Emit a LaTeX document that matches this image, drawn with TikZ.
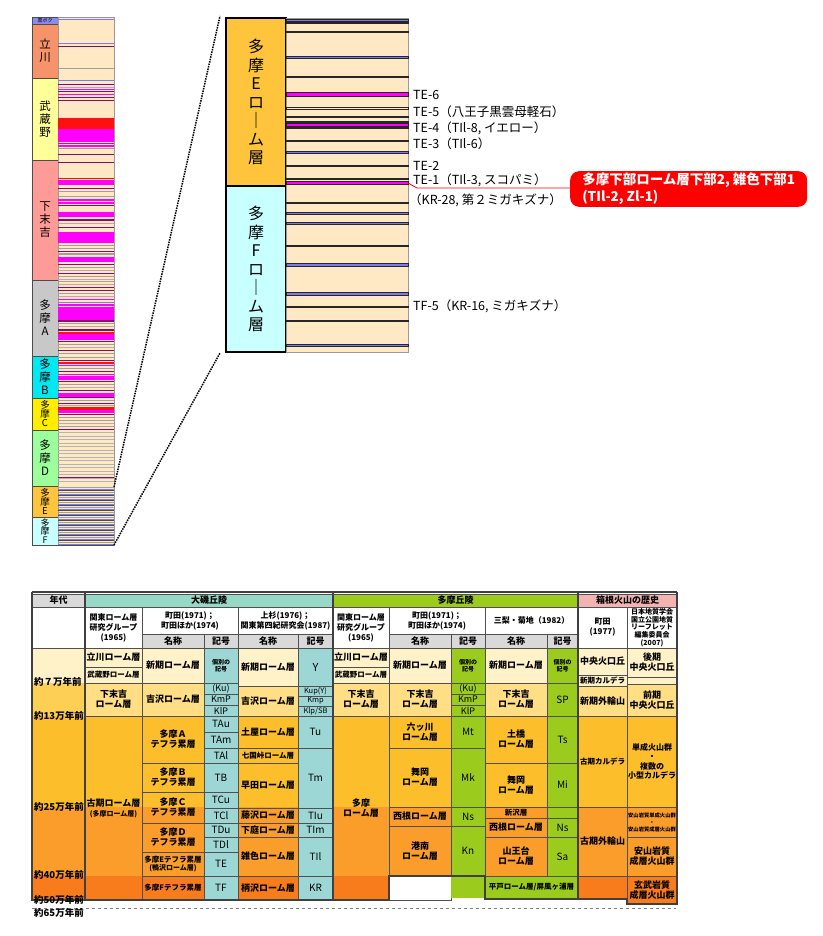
\documentclass[tikz,border=0pt]{standalone}
\usepackage{fontspec}
\setmainfont{Noto Sans CJK JP}

\definecolor{stripbg}{HTML}{FFE9C4}
\definecolor{lav}{HTML}{7B7BEF}
\definecolor{purp}{HTML}{8B0A6E}
\definecolor{mag}{HTML}{FF00FF}
\definecolor{redc}{HTML}{FF1010}
\definecolor{gry}{HTML}{A0A0A0}
\definecolor{pk}{HTML}{C8A0B4}
\definecolor{kuroc}{HTML}{8A8AF0}
\definecolor{tachic}{HTML}{F7936A}
\definecolor{musac}{HTML}{FFFF99}
\definecolor{shimoc}{HTML}{FF9B97}
\definecolor{tamaa}{HTML}{C8C8C8}
\definecolor{tamab}{HTML}{00E8F0}
\definecolor{tamac}{HTML}{FFEE00}
\definecolor{tamad}{HTML}{9CFF9C}
\definecolor{tamae}{HTML}{FDC43C}
\definecolor{tamaf}{HTML}{C8FFFF}
\definecolor{pale}{HTML}{FFF2C9}
\definecolor{lgold}{HTML}{FFDE85}
\definecolor{agegold}{HTML}{FECF55}
\definecolor{gold}{HTML}{FDBE2C}
\definecolor{orng}{HTML}{FB9D2B}
\definecolor{dorng}{HTML}{F87B1C}
\definecolor{teal}{HTML}{9CD7D5}
\definecolor{tealhd}{HTML}{96D9C6}
\definecolor{grn}{HTML}{9BCB1C}
\definecolor{pinkhd}{HTML}{F4B3B3}
\definecolor{hdgray}{HTML}{D9D9D9}
\definecolor{gridc}{HTML}{505050}
\definecolor{framec}{HTML}{404040}

% box from (x1,y1) to (x2,y2), y counted downwards
\newcommand\tcell[8][]{%
  \node[cell,#1,fill=#7,minimum width={(#5-#3)*1pt},minimum height={(#6-#4)*1pt}] (#2) at (#3,#4) {#8};}

\begin{document}
\begin{tikzpicture}[x=1pt,y=-1pt,
    cell/.style = {draw=gridc, line width=0.5pt, anchor=north west,
                inner sep=0pt, outer sep=0pt, align=center,
                font=\bfseries\fontsize{9}{10}\selectfont},
    hd/.style = {font=\bfseries\fontsize{9}{10}\selectfont},
    md/.style = {font=\bfseries\fontsize{8}{10}\selectfont},
    sm/.style = {font=\bfseries\fontsize{7.5}{8.5}\selectfont},
    xs/.style = {font=\bfseries\fontsize{7}{7.8}\selectfont},
    xxs/.style = {font=\bfseries\fontsize{6}{7}\selectfont},
    sym/.style = {font=\fontsize{10}{11}\selectfont},
    symrow/.style = {font=\fontsize{9}{10}\selectfont},
    symsm/.style = {font=\fontsize{7.5}{8}\selectfont},
    ov/.style = {draw=black!70, line width=0.6pt, font=\fontsize{11.5}{13}\selectfont},
    ovsq/.style = {font=\fontsize{9.5}{9}\selectfont},
    zm/.style = {draw=black, line width=1.8pt, font=\fontsize{16}{18.5}\selectfont},
    strip/.style = {draw=black!40, line width=0.6pt},
    zlayer/.style = {draw=black!85, line width=0.3pt},
    telbl/.style = {anchor=west, inner sep=0pt, font=\fontsize{12.5}{13}\selectfont},
    agelbl/.style = {anchor=west, inner sep=0pt, font=\bfseries\fontsize{9.5}{10}\selectfont},
    callout/.style = {anchor=west, fill=red, text=white, rounded corners=9pt,
                align=left, inner xsep=7pt, inner ysep=2pt, minimum width=237pt,
                font=\bfseries\fontsize{13.5}{17}\selectfont},
    zoomline/.style = {densely dotted, line width=1.5pt},
    tframe/.style = {draw=framec, line width=2.2pt}
                    ]
    \useasboundingbox (0,0) rectangle (822,936);

    % overview column
    \tcell[ov,font=\fontsize{5}{5}\selectfont]{kuro}{32}{17}{58}{24}{kuroc}{黒ボク}
    \tcell[ov]{ta}{32}{24}{58}{78}{tachic}{立\\川}
    \tcell[ov]{mu}{32}{78}{58}{160}{musac}{武\\蔵\\野}
    \tcell[ov]{sh}{32}{160}{58}{280}{shimoc}{下\\末\\吉}
    \tcell[ov]{tA}{32}{280}{58}{356}{tamaa}{多\\摩\\A}
    \tcell[ov]{tB}{32}{356}{58}{398}{tamab}{多\\摩\\B}
    \tcell[ov,ovsq]{tC}{32}{398}{58}{430}{tamac}{多\\摩\\C}
    \tcell[ov]{tD}{32}{430}{58}{486}{tamad}{多\\摩\\D}
    \tcell[ov,ovsq]{tE}{32}{486}{58}{517}{tamae}{多\\摩\\E}
    \tcell[ov,ovsq,font=\fontsize{9}{8.6}\selectfont]{tF}{32}{517}{58}{545}{tamaf}{多\\摩\\F}
    \tcell[strip]{ovs}{58}{17}{114}{545}{stripbg}{}
    \foreach \y/\h/\c in {19/1.5/lav, 43/1/lav, 46/1/purp, 68/1/gry, 80/1/lav,
        84/1/purp, 87/1/pk, 89/1/mag, 91/1/purp, 94/1/mag, 97/1/purp, 100/1/purp,
        118/11/redc, 129/13/mag, 143/1.5/redc, 145/2/mag, 148/1/gry, 154/1/purp,
        162/1/purp, 178/1.5/redc, 180/5/mag, 188/1/purp, 191/1/gry, 196/1/gry,
        199/1.5/mag, 202/1.5/mag, 205/1/purp, 212/5/mag, 219/1.5/purp, 223/1/pk,
        227/1/purp, 232/11/mag, 245/1/gry, 247.5/1.5/gry, 250.5/1/purp, 253/1.5/gry,
        257/5/mag, 264/1/purp, 267/1/gry, 270/1/pk, 273/1/purp, 276/1/gry, 279/1/pk,
        281/1/gry, 284/1/pk, 287/1/purp, 290/1/purp, 293/1/gry, 296/1/pk, 299/1/mag,
        302/1/lav, 304/1.5/mag, 307/13/mag, 320/1.5/purp, 323/1/gry, 326/1/pk,
        329/1.5/purp, 332/1.5/redc, 334/6/mag, 341/1/purp, 344/1/gry, 347/1/pk,
        350/1/purp, 353/1/gry, 357/1/gry, 360/1/purp, 362/1.5/redc, 365/1/mag,
        368/1/gry, 371/1/purp, 374/1/mag, 376/4/mag, 381/1/purp, 384/1/gry, 387/1/pk,
        390/1/purp, 393/4/mag, 397/1/purp, 400/1/gry, 403/1/purp, 405/1/pk,
        407/3/redc, 410/3/mag, 414/1/purp, 417/1/gry, 420/1/gry, 423/1/pk,
        426/1/gry, 429/1/purp, 477/1/purp}
        \fill[\c] (58,\y) rectangle (114,\y+\h);
    \foreach \y in {432,435.5,...,484}
        \fill[gry!80] (58,\y) rectangle (114,\y+1);
    \foreach \y in {487,492,...,542} {
        \fill[gry] (58,\y) rectangle (114,\y+1);
        \fill[lav] (58,\y+1.8) rectangle (114,\y+2.6);
        \fill[black!70] (58,\y+3.4) rectangle (114,\y+4.1);
    }

    % enlarged part
    \tcell[zm]{ze}{226}{18}{286}{186}{tamae}{多\\摩\\E\\ロ\\｜\\ム\\層}
    \tcell[zm]{zf}{226}{186}{286}{352}{tamaf}{多\\摩\\F\\ロ\\｜\\ム\\層}
    \tcell[strip]{zs}{286}{18}{408}{352}{stripbg}{}
    \foreach \y/\h/\c in {19/2/lav, 22/1/gry, 31/1.5/purp, 56/2.5/lav, 76/1.5/purp,
        92/4/mag, 107/2/stripbg, 116/1.5/gry, 121/1/purp, 123/3.5/mag, 127.5/1/purp,
        140/1.5/mag, 151/2/lav, 165/1.5/purp, 178/1.5/lav, 181/3/mag, 202/1.5/gry,
        212/2/lav, 222/2.5/lav, 245/1.5/lav, 263/3/lav, 292/3/lav, 306/1.5/gry,
        320/1.5/lav, 344/2.5/lav}
        \filldraw[zlayer,fill=\c] (286,\y) rectangle (408,\y+\h);

    \coordinate (ovE) at (114,487);
    \coordinate (ovF) at (114,545);
    \coordinate (zmT) at (220,16);
    \coordinate (zmB) at (220,353);
    \draw[zoomline] (ovE) -- (zmT);
    \draw[zoomline] (ovF) -- (zmB);

    \node[telbl] (te6) at (413,95) {TE-6};
    \node[telbl] (te5) at (413,112) {TE-5（八王子黒雲母軽石）};
    \node[telbl] (te4) at (413,128) {TE-4（TIl-8, イエロー）};
    \node[telbl] (te3) at (413,144) {TE-3（TIl-6）};
    \node[telbl] (te2) at (413,166) {TE-2};
    \node[telbl] (te1) at (413,180) {TE-1（TIl-3, スコパミ）};
    \node[telbl] (kr28) at (409,200) {（KR-28, 第２ミガキズナ）};
    \node[telbl] (tf5) at (413,306) {TF-5（KR-16, ミガキズナ）};

    \node[callout] (callout) at (570,189) {多摩下部ローム層下部2, 雑色下部1\\(TIl-2, Zl-1)};
    \coordinate (te1pt) at (408,183);
    \coordinate (te1bend) at (417,188);
    \draw[red, line width=0.8pt] (te1pt) -- (te1bend) -- (te1bend -| callout.west);

    % table: colour bands by age
    \fill[pale] (32,648) rectangle (85,683);
    \fill[agegold] (32,683) rectangle (85,716);
    \fill[gold] (32,716) rectangle (677,807);
    \fill[orng] (32,807) rectangle (677,876);
    \fill[dorng] (32,876) rectangle (389,900);
    \fill[dorng] (389,876) rectangle (627,898);

    % header
    \tcell[hd]{hAge}{32}{594}{85}{607}{hdgray}{年代}
    \tcell{hAgeW}{32}{607}{85}{648}{white}{}
    \tcell[hd]{hOiso}{85}{594}{333}{607}{tealhd}{大磯丘陵}
    \tcell[md]{hOk}{85}{607}{142}{648}{white}{関東ローム層\\研究グループ\\(1965)}
    \tcell[md]{hOm}{142}{607}{238}{634}{white}{町田(1971)；\\町田ほか(1974)}
    \tcell[hd]{hOmn}{142}{634}{204}{648}{hdgray}{名称}
    \tcell[hd]{hOms}{204}{634}{238}{648}{hdgray}{記号}
    \tcell[md]{hOu}{238}{607}{333}{634}{white}{上杉(1976)；\\関東第四紀研究会(1987)}
    \tcell[hd]{hOun}{238}{634}{298}{648}{hdgray}{名称}
    \tcell[hd]{hOus}{298}{634}{333}{648}{hdgray}{記号}
    \tcell[hd]{hTama}{333}{594}{578}{607}{grn}{多摩丘陵}
    \tcell[md]{hTk}{333}{607}{389}{648}{white}{関東ローム層\\研究グループ\\(1965)}
    \tcell[md]{hTm}{389}{607}{485}{634}{white}{町田(1971)；\\町田ほか(1974)}
    \tcell[hd]{hTmn}{389}{634}{451}{648}{hdgray}{名称}
    \tcell[hd]{hTms}{451}{634}{485}{648}{hdgray}{記号}
    \tcell[md]{hTs}{485}{607}{578}{634}{white}{三梨・菊地（1982）}
    \tcell[hd]{hTsn}{485}{634}{547}{648}{hdgray}{名称}
    \tcell[hd]{hTss}{547}{634}{578}{648}{hdgray}{記号}
    \tcell[hd]{hHako}{578}{594}{677}{607}{pinkhd}{箱根火山の歴史}
    \tcell[md]{hHm}{578}{607}{627}{648}{white}{町田\\(1977)}
    \tcell[xs]{hHg}{627}{607}{677}{648}{white}{日本地質学会\\国立公園地質\\リーフレット\\編集委員会\\(2007)}

    % Oiso hills
    \tcell{oTachi}{85}{648}{142}{667}{pale}{立川ローム層}
    \tcell[sm]{oMusa}{85}{667}{142}{683}{pale}{武蔵野ローム層}
    \tcell{oShimo}{85}{683}{142}{716}{lgold}{下末吉\\ローム層}
    \tcell{oShinki}{142}{648}{204}{683}{pale}{新期ローム層}
    \tcell{oYoshi}{142}{683}{204}{716}{lgold}{吉沢ローム層}
    \tcell[xxs]{oKobetsu}{204}{648}{238}{683}{teal}{個別の\\記号}
    \tcell[symrow]{oKu}{204}{683}{238}{694}{teal}{(Ku)}
    \tcell[symrow]{oKmp}{204}{694}{238}{705}{teal}{KmP}
    \tcell[symrow]{oKlp}{204}{705}{238}{716}{teal}{KlP}
    \tcell{uShinki}{238}{648}{298}{686}{pale}{新期ローム層}
    \tcell{uYoshi}{238}{686}{298}{716}{lgold}{吉沢ローム層}
    \tcell[sym,font=\fontsize{11}{11}\selectfont]{uY}{298}{648}{333}{686}{teal}{Y}
    \tcell[symsm]{uKup}{298}{686}{333}{696}{teal}{Kup(Y)}
    \tcell[symsm]{uKmp}{298}{696}{333}{706}{teal}{Kmp}
    \tcell[symsm]{uKlp}{298}{706}{333}{716}{teal}{Klp/SB}
    \tcell{oKoki}{85}{716}{142}{900}{none}{古期ローム層\\{\fontsize{7}{8}\selectfont(多摩ローム層)}}
    \tcell{oTA}{142}{716}{204}{763}{none}{多摩Ａ\\テフラ累層}
    \tcell{oTB}{142}{763}{204}{792}{none}{多摩Ｂ\\テフラ累層}
    \tcell{oTC}{142}{792}{204}{823}{none}{多摩Ｃ\\テフラ累層}
    \tcell{oTD}{142}{823}{204}{852}{none}{多摩Ｄ\\テフラ累層}
    \tcell[sm]{oTE}{142}{852}{204}{876}{none}{多摩Eテフラ累層\\{\fontsize{7}{8}\selectfont(鴨沢ローム層)}}
    \tcell[sm]{oTF}{142}{876}{204}{900}{none}{多摩Fテフラ累層}
    \foreach \ya/\yb/\t in {716/732/TAu, 732/748/TAm, 748/763/TAl, 763/792/TB,
        792/808/TCu, 808/823/TCl, 823/837/TDu, 837/852/TDl, 852/876/TE, 876/900/TF}
        \tcell[sym]{o\t}{204}{\ya}{238}{\yb}{teal}{\t};
    \tcell{uTsuchi}{238}{716}{298}{748}{none}{土屋ローム層}
    \tcell[sm]{uNana}{238}{748}{298}{763}{none}{七国峠ローム層}
    \tcell{uHaya}{238}{763}{298}{808}{none}{早田ローム層}
    \tcell{uFuji}{238}{808}{298}{823}{none}{藤沢ローム層}
    \tcell{uShimo}{238}{823}{298}{837}{none}{下庭ローム層}
    \tcell{uZou}{238}{837}{298}{876}{none}{雑色ローム層}
    \tcell{uKara}{238}{876}{298}{900}{none}{柄沢ローム層}
    \foreach \ya/\yb/\t in {716/748/Tu, 748/808/Tm, 808/823/TIu, 823/837/TIm,
        837/876/TIl, 876/900/KR}
        \tcell[sym]{u\t}{298}{\ya}{333}{\yb}{teal}{\t};

    % Tama hills
    \tcell{tTachi}{333}{648}{389}{667}{pale}{立川ローム層}
    \tcell[sm]{tMusa}{333}{667}{389}{683}{pale}{武蔵野ローム層}
    \tcell{tShimo}{333}{683}{389}{716}{lgold}{下末吉\\ローム層}
    \tcell{tShinki}{389}{648}{451}{683}{pale}{新期ローム層}
    \tcell{tShimoM}{389}{683}{451}{716}{lgold}{下末吉\\ローム層}
    \tcell[xxs]{tKobetsu}{451}{648}{485}{683}{grn}{個別の\\記号}
    \tcell[symrow]{tKu}{451}{683}{485}{694}{grn}{(Ku)}
    \tcell[symrow]{tKmp}{451}{694}{485}{705}{grn}{KmP}
    \tcell[symrow]{tKlp}{451}{705}{485}{716}{grn}{KlP}
    \tcell{sShinki}{485}{648}{547}{683}{pale}{新期ローム層}
    \tcell{sShimo}{485}{683}{547}{716}{lgold}{下末吉\\ローム層}
    \tcell[xxs]{sKobetsu}{547}{648}{578}{683}{grn}{個別の\\記号}
    \tcell[sym]{sSP}{547}{683}{578}{716}{grn}{SP}
    \tcell{tTama}{333}{716}{389}{900}{none}{多摩\\ローム層}
    \tcell{tMutsu}{389}{716}{451}{748}{none}{六ッ川\\ローム層}
    \tcell{tMaio}{389}{748}{451}{807}{none}{舞岡\\ローム層}
    \tcell{tNishi}{389}{807}{451}{826}{none}{西根ローム層}
    \tcell{tKonan}{389}{826}{451}{876}{none}{港南\\ローム層}
    \tcell{tBlank}{389}{876}{451}{900}{white}{}
    \tcell[sym]{tMt}{451}{716}{485}{748}{grn}{Mt}
    \tcell[sym]{tMk}{451}{748}{485}{807}{grn}{Mk}
    \tcell[sym]{tNs}{451}{807}{485}{826}{grn}{Ns}
    \tcell[sym]{tKn}{451}{826}{485}{876}{grn}{Kn}
    \tcell[draw=none]{tKb}{451}{876}{485}{898}{grn}{}
    \tcell{sTsuchi}{485}{716}{547}{763}{none}{土橋\\ローム層}
    \tcell{sMaio}{485}{763}{547}{807}{none}{舞岡\\ローム層}
    \tcell[sm]{sShinz}{485}{807}{547}{818}{none}{新沢層}
    \tcell{sNishi}{485}{818}{547}{837}{none}{西根ローム層}
    \tcell{sSanno}{485}{837}{547}{876}{none}{山王台\\ローム層}
    \tcell[sm]{sHira}{485}{876}{578}{898}{grn}{平戸ローム層/屏風ヶ浦層}
    \tcell[sym]{sTs}{547}{716}{578}{763}{grn}{Ts}
    \tcell[sym]{sMi}{547}{763}{578}{807}{grn}{Mi}
    \tcell{sBl}{547}{807}{578}{818}{grn}{}
    \tcell[sym]{sNs}{547}{818}{578}{837}{grn}{Ns}
    \tcell[sym]{sSa}{547}{837}{578}{876}{grn}{Sa}

    % Hakone volcano
    \tcell{kChuo}{578}{648}{627}{675}{pale}{中央火口丘}
    \tcell[sm]{kShinCal}{578}{675}{627}{686}{pale}{新期カルデラ}
    \tcell{kShinGai}{578}{686}{627}{716}{lgold}{新期外輪山}
    \tcell{kKouki}{627}{648}{677}{677}{pale}{後期\\中央火口丘}
    \tcell{kGap}{627}{677}{677}{684}{pale}{}
    \tcell{kZenki}{627}{684}{677}{716}{lgold}{前期\\中央火口丘}
    \tcell[sm]{kKoCal}{578}{716}{627}{807}{none}{古期カルデラ}
    \tcell{kKoGai}{578}{807}{627}{876}{none}{古期外輪山}
    \tcell{kBlank}{578}{876}{627}{898}{none}{}
    \tcell[font=\bfseries\fontsize{8}{9.5}\selectfont]{kTansei}{627}{716}{677}{807}{none}{単成火山群\\・\\複数の\\小型カルデラ}
    \tcell[font=\bfseries\fontsize{5.3}{7}\selectfont]{kAnzan}{627}{807}{677}{837}{none}{安山岩質単成火山群\\・\\安山岩質成層火山群}
    \tcell{kSeiso}{627}{837}{677}{876}{none}{安山岩質\\成層火山群}
    \tcell{kGenbu}{627}{876}{677}{904}{dorng}{玄武岩質\\成層火山群}

    % heavy frame
    \draw[tframe] (32,592) -- (677,592);
    \draw[tframe] (32,592) -- (32,900) -- (389,900) -- (389,876) -- (485,876)
        -- (485,899) -- (627,899) -- (627,904) -- (677,904) -- (677,592);
    \draw[tframe] (85,592) -- (85,900);
    \draw[tframe] (333,592) -- (333,900);
    \draw[tframe] (578,592) -- (578,899);
    \draw[gray, dashed, line width=0.5pt] (32,908) -- (676,908);

    \foreach \y/\t [count=\i] in {682/約７万年前, 716/約13万年前, 807/約25万年前,
        875/約40万年前, 900/約50万年前, 913/約65万年前}
        \node[agelbl] (age\i) at (34,\y) {\t};
\end{tikzpicture}
\end{document}
